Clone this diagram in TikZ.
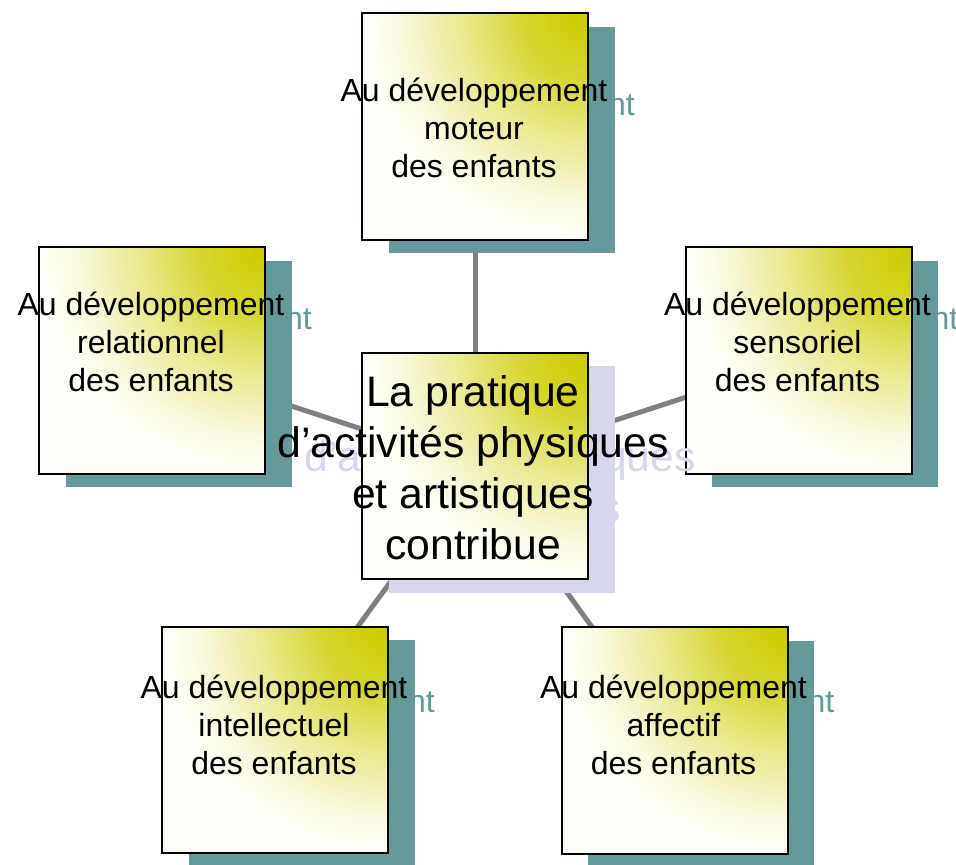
\documentclass[tikz,border=0pt]{standalone}
\usepackage{fontspec}
\setmainfont{Liberation Sans}
\usetikzlibrary{backgrounds}
\definecolor{olivy}{HTML}{CCCC00}
\definecolor{cream}{HTML}{FFFFFA}
\definecolor{tealsh}{HTML}{669999}
\definecolor{lavsh}{HTML}{D6D6EC}
\definecolor{linkgray}{HTML}{808080}
\pgfdeclareradialshading{cornergrad}{\pgfpointorigin}{color(0bp)=(olivy); color(7bp)=(olivy!80!cream); color(14bp)=(olivy!42!cream); color(21bp)=(olivy!10!cream); color(25bp)=(cream); color(50bp)=(cream)}
\tikzset{
  card/.style={draw=black, line width=1.5pt, fill=cream, minimum width=169.5pt, minimum height=170pt, inner sep=0pt,
    path picture={\shade[shading=cornergrad] (path picture bounding box.north east) circle[radius=165pt];}},
  shadowbox/.style={fill=#1, minimum width=169.5pt, minimum height=170pt, inner sep=0pt},
  smalltext/.style={font=\fontsize{24}{28.5}\selectfont, align=center, inner sep=0pt},
  bigtext/.style={font=\fontsize{32}{38.25}\selectfont, align=center, inner sep=0pt},
  link/.style={draw=linkgray, line width=3.75pt}
}
\begin{document}
\begin{tikzpicture}[x=0.75pt, y=-0.75pt]
\useasboundingbox (0,0) rectangle (956,864);
% top
\node[shadowbox=tealsh] (tS) at (501.5,140) {};
\node[smalltext, text=tealsh] (tST) at (501.5,141.5) {Au développement\\moteur\\des enfants};
\node[card] (t) at (475,126.5) {};
\node[smalltext] (tT) at (474,127.5) {Au développement\\moteur\\des enfants};
% left
\node[shadowbox=tealsh] (lS) at (178.5,374) {};
\node[smalltext, text=tealsh] (lST) at (178.5,355.5) {Au développement\\relationnel\\des enfants};
\node[card] (l) at (152,360.5) {};
\node[smalltext] (lT) at (151,341.5) {Au développement\\relationnel\\des enfants};
% right
\node[shadowbox=tealsh] (rS) at (825,374) {};
\node[smalltext, text=tealsh] (rST) at (825,355.5) {Au développement\\sensoriel\\des enfants};
\node[card] (r) at (798.5,360.5) {};
\node[smalltext] (rT) at (797.5,341.5) {Au développement\\sensoriel\\des enfants};
% bottom left
\node[shadowbox=tealsh] (blS) at (301.5,753.5) {};
\node[smalltext, text=tealsh] (blST) at (301.5,738.5) {Au développement\\intellectuel\\des enfants};
\node[card] (bl) at (275,740) {};
\node[smalltext] (blT) at (274,724.5) {Au développement\\intellectuel\\des enfants};
% bottom right
\node[shadowbox=tealsh] (brS) at (701,754) {};
\node[smalltext, text=tealsh] (brST) at (701,739) {Au développement\\affectif\\des enfants};
\node[card] (br) at (674.5,740.5) {};
\node[smalltext] (brT) at (673.5,725) {Au développement\\affectif\\des enfants};
% center
\node[shadowbox=lavsh] (cS) at (501.5,479.5) {};
\node[bigtext, text=lavsh] (cST) at (500,482) {La pratique\\d’activités physiques\\et artistiques\\contribue};
\node[card] (c) at (475,466) {};
\node[bigtext] (cT) at (473,468) {La pratique\\d’activités physiques\\et artistiques\\contribue};
% connectors
\begin{scope}[on background layer]
\draw[link] (c.center) -- (t.center);
\draw[link] (c.center) -- (l.center);
\draw[link] (c.center) -- (r.center);
\draw[link] (c.center) -- (bl.center);
\draw[link] (c.center) -- (br.center);
\end{scope}
\end{tikzpicture}
\end{document}
